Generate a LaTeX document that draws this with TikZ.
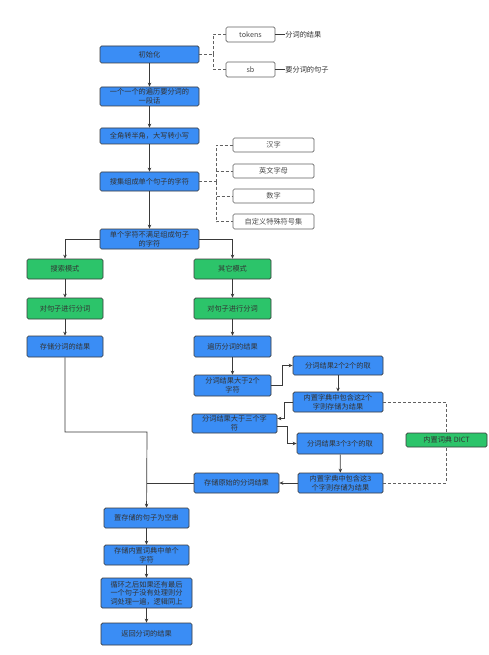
\documentclass[tikz,border=0pt]{standalone}
\usepackage{fontspec}
\setmainfont{Noto Sans CJK SC}
\usetikzlibrary{arrows.meta, positioning}
\definecolor{boxblue}{HTML}{3A8DF5}
\definecolor{boxgreen}{HTML}{2CC46A}
\definecolor{linegray}{HTML}{3A3A3A}

\begin{document}
\begin{tikzpicture}[
    x=1pt, y=-1pt,
    line width=0.7pt,
    font=\fontsize{7.2}{8.6}\selectfont,
    >={Stealth[length=4pt, width=3.5pt]},
    flow/.style={draw=linegray, ->},
    link/.style={draw=linegray!80, dashed, dash pattern=on 3pt off 2pt},
    blue box/.style={rectangle, rounded corners=1.5pt, draw=linegray, fill=boxblue, text=black!80, align=center, inner sep=1pt},
    green box/.style={rectangle, rounded corners=1.5pt, draw=linegray, fill=boxgreen, text=black!80, align=center, inner sep=1pt},
    white box/.style={rectangle, rounded corners=1.5pt, draw=linegray!80, fill=white, text=black!70, align=center, inner sep=1pt},
    note/.style={anchor=west, inner sep=0pt, text=black!80}
]
    \useasboundingbox (0,0) rectangle (488,655);
    \fill[white] (0,0) rectangle (488,655);

    % Main column
    \node[blue box, minimum width=99pt, minimum height=17pt] (init) at (149.5,54.5) {初始化};
    \node[blue box, minimum width=99pt, minimum height=19pt] (walk) at (149.5,96.5) {一个一个的遍历要分词的\\一段话};
    \node[blue box, minimum width=99pt, minimum height=16pt] (convert) at (149.5,136) {全角转半角，大写转小写};
    \node[blue box, minimum width=99pt, minimum height=19pt] (collect) at (149.5,181.5) {搜集组成单个句子的字符};
    \node[blue box, minimum width=99pt, minimum height=20pt] (single) at (149.5,239) {单个字符不满足组成句子\\的字符};

    % Init fields
    \node[white box, minimum width=49pt, minimum height=15pt] (tokens) at (250.5,34.5) {tokens};
    \node[white box, minimum width=49pt, minimum height=15pt] (sb) at (250.5,69.5) {sb};
    \node[note] (tokensnote) at (285,34.5) {分词的结果};
    \node[note] (sbnote) at (285,69.5) {要分词的句子};

    % Character sets
    \node[white box, minimum width=81pt, minimum height=14pt] (hanzi) at (273.5,145) {汉字};
    \node[white box, minimum width=81pt, minimum height=14pt] (letters) at (273.5,171) {英文字母};
    \node[white box, minimum width=81pt, minimum height=14pt] (digits) at (273.5,196) {数字};
    \node[white box, minimum width=81pt, minimum height=15pt] (symbols) at (273.5,221.5) {自定义特殊符号集};

    % Two modes
    \node[green box, minimum width=76pt, minimum height=20pt] (search) at (65,269) {搜索模式};
    \node[green box, minimum width=77pt, minimum height=20pt] (other) at (232.5,269) {其它模式};
    \node[green box, minimum width=76pt, minimum height=21pt] (segleft) at (65,308.5) {对句子进行分词};
    \node[green box, minimum width=77pt, minimum height=21pt] (segright) at (232.5,308.5) {对句子进行分词};
    \node[blue box, minimum width=76pt, minimum height=21pt] (storeseg) at (65,346.5) {存储分词的结果};
    \node[blue box, minimum width=77pt, minimum height=21pt] (traverse) at (232.5,346.5) {遍历分词的结果};

    % Other mode details
    \node[blue box, minimum width=77pt, minimum height=21pt] (gttwo) at (232.5,385.5) {分词结果大于2个\\字符};
    \node[blue box, minimum width=90pt, minimum height=19pt] (taketwo) at (338,365.5) {分词结果2个2个的取};
    \node[blue box, minimum width=90pt, minimum height=20pt] (dicttwo) at (338,402) {内置字典中包含这2个\\字则存储为结果};
    \node[blue box, minimum width=85pt, minimum height=19pt] (gtthree) at (234.5,423.5) {分词结果大于三个字\\符};
    \node[blue box, minimum width=86pt, minimum height=21pt] (takethree) at (340,443.5) {分词结果3个3个的取};
    \node[blue box, minimum width=85pt, minimum height=20pt] (dictthree) at (340.5,483) {内置字典中包含这3\\个字则存储为结果};
    \node[blue box, minimum width=85pt, minimum height=20pt] (storeraw) at (236.5,483) {存储原始的分词结果};
    \node[green box, minimum width=81pt, minimum height=14pt] (dict) at (446.5,440) {内置词典 DICT};

    % Tail
    \node[blue box, minimum width=85pt, minimum height=20pt] (empty) at (146.5,518) {置存储的句子为空串};
    \node[blue box, minimum width=85pt, minimum height=20pt] (storesingle) at (146.5,555) {存储内置词典中单个\\字符};
    \node[blue box, minimum width=91pt, minimum height=30pt] (loop) at (146.5,593) {循环之后如果还有最后\\一个句子没有处理则分\\词处理一遍，逻辑同上};
    \node[blue box, minimum width=91pt, minimum height=22pt] (result) at (146.5,634) {返回分词的结果};

    % Junctions
    \coordinate (initjoin) at (213,54.5);
    \coordinate (charjoin) at (216,181.5);
    \coordinate (merge) at (147,432);

    % Dashed links
    \draw[link] (init) -- (initjoin);
    \draw[link] (initjoin) |- (tokens);
    \draw[link] (initjoin) |- (sb);
    \draw[linegray] (tokens) -- (tokensnote);
    \draw[linegray] (sb) -- (sbnote);
    \draw[link] (collect) -- (charjoin);
    \draw[link] (charjoin) |- (hanzi);
    \draw[link] (charjoin) |- (letters);
    \draw[link] (charjoin) |- (digits);
    \draw[link] (charjoin) |- (symbols);
    \draw[link] (dicttwo) -| (dict);
    \draw[link] (dictthree) -| (dict);

    % Edges
    \draw[flow] (init) -- (walk);
    \draw[flow] (walk) -- (convert);
    \draw[flow] (convert) -- (collect);
    \draw[flow] (collect) -- (single);
    \draw[flow] (single.west) -| (search);
    \draw[flow] (single.east) -| (other);
    \draw[flow] (search) -- (segleft);
    \draw[flow] (segleft) -- (storeseg);
    \draw[flow] (other) -- (segright);
    \draw[flow] (segright) -- (traverse);
    \draw[flow] (traverse) -- (gttwo);
    \draw[flow] (gttwo.east) -- ++(11,0) |- (taketwo.west);
    \draw[flow] (taketwo) -- (dicttwo);
    \draw[flow] (dicttwo.west) -- ++(-8,0) |- ([yshift=5pt]gtthree.east);
    \draw[flow] ([yshift=-3pt]gtthree.east) -- ++(10,0) |- (takethree.west);
    \draw[flow] (takethree) -- (dictthree);
    \draw[flow] (dictthree) -- (storeraw);
    \draw[linegray] (storeraw) -- (storeraw -| merge);
    \draw[flow] (storeseg) |- (merge) -- (empty);
    \draw[flow] (empty) -- (storesingle);
    \draw[flow] (storesingle) -- (loop);
    \draw[flow] (loop) -- (result);
\end{tikzpicture}
\end{document}
